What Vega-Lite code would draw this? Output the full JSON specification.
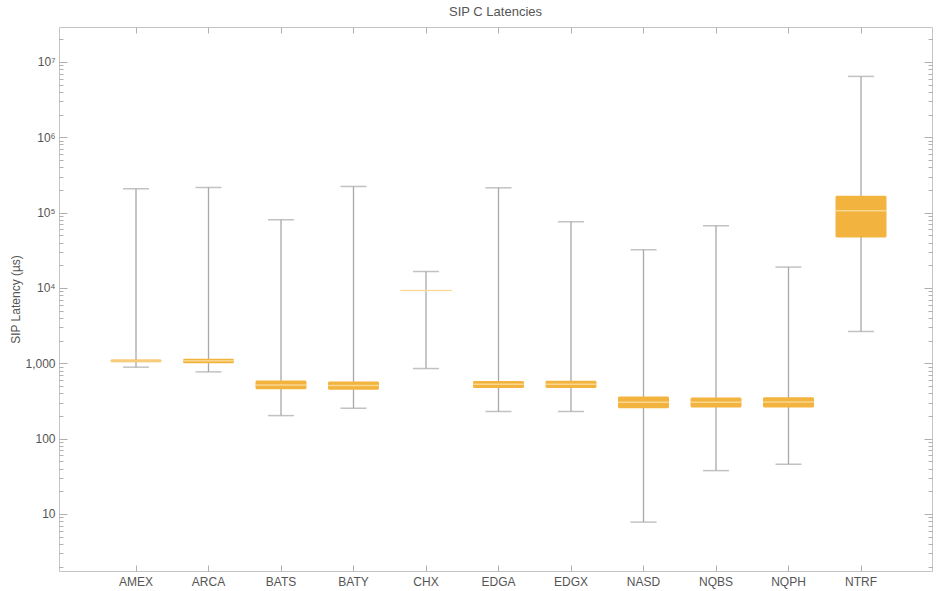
{
  "$schema": "https://vega.github.io/schema/vega-lite/v6.json",
  "width": 873,
  "height": 544,
  "autosize": {"type": "none"},
  "padding": {"left": 59, "top": 27, "right": 5, "bottom": 20},
  "background": "white",
  "title": {"text": "SIP C Latencies", "offset": 8, "fontSize": 13, "font": "Liberation Sans", "fontWeight": "normal", "color": "#555555"},
  "config": {
    "view": {"stroke": "#c4c4c4", "strokeWidth": 1},
    "axis": {"labelFont": "Liberation Sans", "titleFont": "Liberation Sans", "labelColor": "#555555", "titleColor": "#555555", "labelFontSize": 12, "titleFontSize": 12, "titleFontWeight": "normal", "tickColor": "#b0b0b0", "domain": false, "grid": false}
  },
  "data": {"values": [
    {"ex": "AMEX", "lo": 887, "q1": 1030, "med": 1075, "q3": 1120, "hi": 207000},
    {"ex": "ARCA", "lo": 769, "q1": 1000, "med": 1080, "q3": 1150, "hi": 215000},
    {"ex": "BATS", "lo": 202, "q1": 453, "med": 516, "q3": 589, "hi": 80200},
    {"ex": "BATY", "lo": 253, "q1": 444, "med": 505, "q3": 571, "hi": 222000},
    {"ex": "CHX", "lo": 851, "q1": 9120, "med": 9250, "q3": 9380, "hi": 16500},
    {"ex": "EDGA", "lo": 229, "q1": 471, "med": 525, "q3": 583, "hi": 213000},
    {"ex": "EDGX", "lo": 229, "q1": 470, "med": 525, "q3": 585, "hi": 75500},
    {"ex": "NASD", "lo": 7.8, "q1": 253, "med": 304, "q3": 361, "hi": 32100},
    {"ex": "NQBS", "lo": 37.6, "q1": 258, "med": 303, "q3": 351, "hi": 66800},
    {"ex": "NQPH", "lo": 45.7, "q1": 258, "med": 305, "q3": 355, "hi": 18900},
    {"ex": "NTRF", "lo": 2640, "q1": 46700, "med": 105700, "q3": 167000, "hi": 6410000}
  ]},
  "resolve": {"axis": {"x": "independent", "y": "independent"}},
  "layer": [
    {
      "mark": {"type": "rule", "color": "#a8a8a8", "strokeWidth": 1.3},
      "encoding": {
        "x": {"field": "ex", "type": "nominal", "sort": null,
          "scale": {"paddingInner": 0, "paddingOuter": 0.5, "range": [4.5, 874.5]},
          "axis": {"orient": "bottom", "title": null, "labelAngle": 0, "tickSize": -6, "labelPadding": 11}},
        "y": {"field": "lo", "type": "quantitative",
          "scale": {"type": "log", "domain": [1.75, 29000000], "nice": false, "zero": false},
          "axis": {"orient": "left", "title": "SIP Latency (µs)", "titlePadding": 2,
            "values": [2,3,4,5,6,7,8,9,10,20,30,40,50,60,70,80,90,100,200,300,400,500,600,700,800,900,1000,2000,3000,4000,5000,6000,7000,8000,9000,10000,20000,30000,40000,50000,60000,70000,80000,90000,100000,200000,300000,400000,500000,600000,700000,800000,900000,1000000,2000000,3000000,4000000,5000000,6000000,7000000,8000000,9000000,10000000,20000000],
            "labelExpr": "datum.value == 10 ? '10' : datum.value == 100 ? '100' : datum.value == 1000 ? '1,000' : datum.value == 10000 ? '10⁴' : datum.value == 100000 ? '10⁵' : datum.value == 1000000 ? '10⁶' : datum.value == 10000000 ? '10⁷' : ''",
            "tickSize": {"condition": {"test": "indexof([10,100,1000,10000,100000,1000000,10000000], datum.value) >= 0", "value": -8}, "value": -4},
            "labelPadding": 12}},
        "y2": {"field": "hi"}
      }
    },
    {
      "mark": {"type": "tick", "color": "#a8a8a8", "size": 26, "thickness": 1.5},
      "encoding": {
        "x": {"field": "ex", "type": "nominal", "sort": null,
          "axis": {"orient": "top", "title": null, "labels": false, "tickSize": -6}},
        "y": {"field": "hi", "type": "quantitative",
          "axis": {"orient": "right", "title": null, "labels": false,
            "values": [2,3,4,5,6,7,8,9,10,20,30,40,50,60,70,80,90,100,200,300,400,500,600,700,800,900,1000,2000,3000,4000,5000,6000,7000,8000,9000,10000,20000,30000,40000,50000,60000,70000,80000,90000,100000,200000,300000,400000,500000,600000,700000,800000,900000,1000000,2000000,3000000,4000000,5000000,6000000,7000000,8000000,9000000,10000000,20000000],
            "tickSize": {"condition": {"test": "indexof([10,100,1000,10000,100000,1000000,10000000], datum.value) >= 0", "value": -8}, "value": -4}}}
      }
    },
    {
      "mark": {"type": "tick", "color": "#a8a8a8", "size": 26, "thickness": 1.5},
      "encoding": {
        "x": {"field": "ex", "type": "nominal", "sort": null, "axis": null},
        "y": {"field": "lo", "type": "quantitative", "axis": null}
      }
    },
    {
      "mark": {"type": "bar", "color": "#F3B43F", "size": 51, "cornerRadius": 1.5},
      "encoding": {
        "x": {"field": "ex", "type": "nominal", "sort": null, "axis": null},
        "y": {"field": "q1", "type": "quantitative", "axis": null},
        "y2": {"field": "q3"}
      }
    },
    {
      "mark": {"type": "tick", "color": "#FCE6B2", "size": 51, "thickness": 1.5},
      "encoding": {
        "x": {"field": "ex", "type": "nominal", "sort": null, "axis": null},
        "y": {"field": "med", "type": "quantitative", "axis": null}
      }
    }
  ]
}
